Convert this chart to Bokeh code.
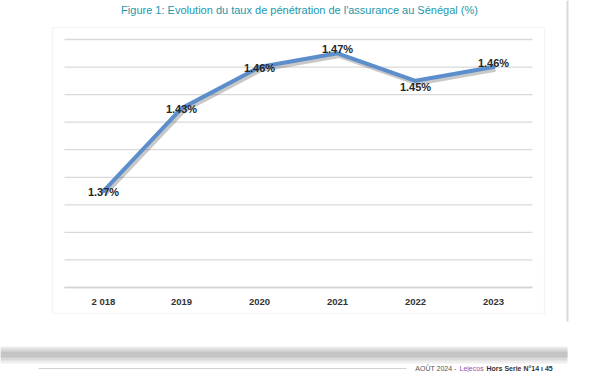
from bokeh.plotting import figure
from bokeh.models import FixedTicker, LinearAxis, Label, BoxAnnotation, Range1d
from bokeh.core.properties import value
from bokeh.embed import file_html
from bokeh.resources import INLINE

# ---- data ----
years = ["2 018", "2019", "2020", "2021", "2022", "2023"]
rates = [1.37, 1.43, 1.46, 1.47, 1.45, 1.46]
y_ticks = [1.30, 1.32, 1.34, 1.36, 1.38, 1.40, 1.42, 1.44, 1.46, 1.48]
title_text = "Figure 1: Evolution du taux de pénétration de l'assurance au Sénégal (%)"
footer_parts = ["AOÛT 2024 -", "Lejecos", "Hors Serie N°14 ı 45"]

# ---- layout (canvas pixels, origin top-left) ----
W, H = 600, 372
PL, PR, PT, PB = 64, 532, 39, 287      # plot area inside the full-canvas frame
label_dy = [1, 1, 1, -4, 6, -4]        # data-label nudges in screen px (style)

xs = list(range(len(years)))
labels = [f"{v:.2f}%" for v in rates]

kx = len(years) / (PR - PL)
ky = (y_ticks[-1] - y_ticks[0]) / (PB - PT)
x_rng = Range1d(-0.5 - PL * kx, len(years) - 0.5 + (W - PR) * kx)
y_rng = Range1d(y_ticks[0] - (H - PB) * ky, y_ticks[-1] + PT * ky)

p = figure(width=W, height=H, output_backend="svg", toolbar_location=None,
           x_range=x_rng, y_range=y_rng,
           x_axis_location=None, y_axis_location=None, min_border=0,
           outline_line_color=None, background_fill_color="white",
           border_fill_color="white")
p.grid.visible = False

def sx(cx):
    return cx

def sy(cy):
    return H - cy

def box(l, r, t, b, **kw):
    p.add_layout(BoxAnnotation(left=sx(l), right=sx(r), top=sy(t), bottom=sy(b),
                               left_units="screen", right_units="screen",
                               top_units="screen", bottom_units="screen", **kw))

# ---- page decorations ----
box(52, 544, 27, 313, fill_color=None, line_color="#d9d9d9", line_width=1.2)
box(566, 568, 0, 321, fill_color="#a0a0a0", line_color=None)
for (t, b, c, a) in [(346, 363, "#dadada", 0.45), (348, 360, "#c4c4c4", 0.5),
                     (351, 357, "#b0b0b0", 0.5)]:
    box(0, 567, t, b, fill_color=c, fill_alpha=a, line_color=None)
box(38, 406, 367.5, 368.5, fill_color="#8c8c8c", line_color=None)

p.add_layout(Label(x=sx(299), y=sy(9), x_units="screen", y_units="screen",
                   text=title_text, text_align="center", text_baseline="alphabetic",
                   text_font="Liberation Sans", text_font_size="11px",
                   text_color="#1b98ad"))

for (t, x, al, col, st) in [(footer_parts[0], 456, "right", "#555555", "normal"),
                            (footer_parts[1], 459, "left", "#a24d9c", "normal"),
                            (footer_parts[2], 486, "left", "#333333", "bold")]:
    p.add_layout(Label(x=sx(x), y=sy(368), x_units="screen", y_units="screen",
                       text=t, text_align=al, text_baseline="alphabetic",
                       text_font="Liberation Sans", text_font_size="7px",
                       text_font_style=st, text_color=col))

# ---- gridlines within the plot area ----
p.segment(x0=-0.5, x1=len(years) - 0.5, y0=y_ticks, y1=y_ticks,
          line_color="#d9d9d9", line_width=1.3)

# ---- category axis at the bottom of the plot area ----
ax = LinearAxis(ticker=FixedTicker(ticks=xs),
                major_label_overrides={i: y for i, y in enumerate(years)},
                fixed_location=y_ticks[0], bounds=(-0.5, len(years) - 0.5))
ax.axis_line_color = "#d4d4d4"
ax.axis_line_width = 1.3
ax.major_tick_line_color = None
ax.minor_tick_line_color = None
ax.major_tick_out = 0
ax.major_tick_in = 0
ax.major_label_standoff = 8
ax.major_label_text_font = "Liberation Sans"
ax.major_label_text_font_style = "bold"
ax.major_label_text_font_size = "9.5px"
ax.major_label_text_color = "#333333"
p.add_layout(ax, "below")

# ---- series ----
p.line(x=[x + 0.025 for x in xs], y=[v - 0.0018 for v in rates],
       line_color="#3a3a3a", line_alpha=0.28, line_width=4.5, line_join="round")
p.line(x=xs, y=rates, line_color="#5b8ecb", line_width=4, line_join="round",
       line_cap="round")

p.text(x=xs, y=rates, text=labels, y_offset=label_dy,
       text_align="center", text_baseline="middle",
       text_font=value("Liberation Sans"), text_font_style="bold",
       text_font_size="11px", text_color="#262626")

open("out.html", "w").write(file_html(p, INLINE))
